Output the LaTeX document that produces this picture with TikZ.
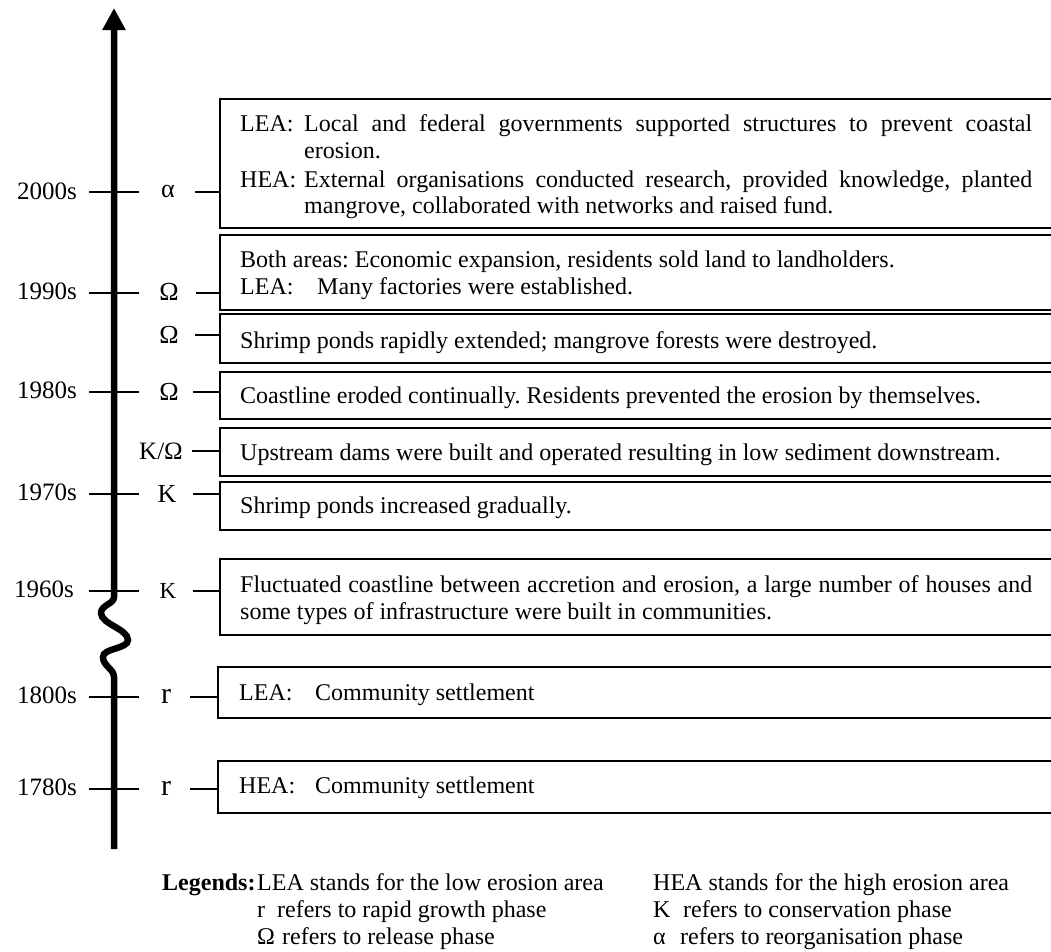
\documentclass[tikz,border=0pt]{standalone}
\usepackage{fontspec}
\setmainfont{Liberation Serif}
\usetikzlibrary{arrows.meta,calc}
\frenchspacing
\begin{document}
\begin{tikzpicture}[x=1pt,y=-1pt,
  axisline/.style={line width=6.5pt,-{Triangle[width=22pt,length=22pt]}},
  tickline/.style={line width=1.6pt},
  con/.style={line width=1.5pt},
  box/.style={draw,line width=1.3pt,inner sep=0pt,outer sep=0pt,minimum width=900pt,anchor=north west},
  txt/.style={anchor=base west,inner sep=0pt,font=\fontsize{24}{27}\selectfont},
  yr/.style={anchor=base east,inner sep=0pt,font=\fontsize{25}{28}\selectfont},
  ph/.style={anchor=base,inner sep=0pt,font=\fontsize{26}{29}\selectfont},
  lg/.style={anchor=base west,inner sep=0pt,font=\fontsize{24}{27}\selectfont}]
\clip (0,0) rectangle (1051,951);
\fill[white] (0,0) rectangle (1051,951);

% axis
\draw[axisline] (114,849) -- (114,677)
  .. controls (114,669) and (103,666) .. (103,657)
  .. controls (103,648) and (128,649) .. (128,640)
  .. controls (128,629) and (101,624) .. (101,613)
  .. controls (101,605) and (114,604) .. (114,597) -- (114,8);

% row coordinates
\coordinate (t1) at (114,192);
\coordinate (t2) at (114,293);
\coordinate (t3) at (114,335);
\coordinate (t4) at (114,392);
\coordinate (t5) at (114,451);
\coordinate (t6) at (114,494);
\coordinate (t7) at (114,591);
\coordinate (t8) at (114,697);
\coordinate (t9) at (114,789);

% ticks
\foreach \t in {t1,t2,t4,t6,t7,t8,t9}
  \draw[tickline] ([xshift=-25pt]\t) -- ([xshift=25pt]\t);

% year labels
\node[yr] (y1) at (77,199) {2000s};
\node[yr] (y2) at (77,299) {1990s};
\node[yr] (y4) at (77,398) {1980s};
\node[yr] (y6) at (77,500) {1970s};
\node[yr] (y7) at (74,597) {1960s};
\node[yr] (y8) at (77,703) {1800s};
\node[yr] (y9) at (77,795) {1780s};

% phase symbols
\node[ph] (p1) at (168,197) {α};
\node[ph] (p2) at (169,300) {Ω};
\node[ph] (p3) at (169,343) {Ω};
\node[ph] (p4) at (169,400) {Ω};
\node[ph,font=\fontsize{25}{28}\selectfont] (p5) at (161,459) {K/Ω};
\node[ph] (p6) at (167,502) {K};
\node[ph,font=\fontsize{23}{26}\selectfont] (p7) at (168,598) {K};
\node[ph,font=\fontsize{30}{32}\selectfont] (p8) at (166,703) {r};
\node[ph,font=\fontsize{30}{32}\selectfont] (p9) at (166,795) {r};

% boxes
\node[box,minimum height=129pt] (b1) at (220,99) {};
\node[box,minimum height=75pt] (b2) at (220,235) {};
\node[box,minimum height=49pt] (b3) at (220,314) {};
\node[box,minimum height=47pt] (b4) at (220,372) {};
\node[box,minimum height=48pt] (b5) at (220,428) {};
\node[box,minimum height=48pt] (b6) at (220,482) {};
\node[box,minimum height=76pt] (b7) at (220,559) {};
\node[box,minimum height=51pt] (b8) at (218,667) {};
\node[box,minimum height=52pt] (b9) at (218,761) {};

% connectors
\draw[con] ($(p1.east |- t1)+(20,0)$) -- (b1.west |- t1);
\draw[con] ($(p2.east |- t2)+(17,0)$) -- (b2.west |- t2);
\draw[con] ($(p3.east |- t3)+(16,0)$) -- (b3.west |- t3);
\draw[con] ($(p4.east |- t4)+(14,0)$) -- (b4.west |- t4);
\draw[con] ($(p5.east |- t5)+(9,0)$) -- (b5.west |- t5);
\draw[con] ($(p6.east |- t6)+(16,0)$) -- (b6.west |- t6);
\draw[con] ($(p7.east |- t7)+(16,0)$) -- (b7.west |- t7);
\draw[con] ($(p8.east |- t8)+(19,0)$) -- (b8.west |- t8);
\draw[con] ($(p9.east |- t9)+(19,0)$) -- (b9.west |- t9);

% box texts
\node[txt] (x1a) at (240,131) {LEA:};
\node[txt] (x1b) at (304,131) {\makebox[728pt][s]{Local and federal governments supported structures to prevent coastal}};
\node[txt] (x1c) at (304,158) {erosion.};
\node[txt] (x1d) at (240,187) {HEA:};
\node[txt] (x1e) at (304,187) {\makebox[728pt][s]{External organisations conducted research, provided knowledge, planted}};
\node[txt] (x1f) at (304,213) {mangrove, collaborated with networks and raised fund.};

\node[txt] (x2a) at (240,267) {Both areas: Economic expansion, residents sold land to landholders.};
\node[txt] (x2b) at (240,294) {LEA:};
\node[txt] (x2c) at (317,294) {Many factories were established.};

\node[txt] (x3) at (240,348) {Shrimp ponds rapidly extended; mangrove forests were destroyed.};
\node[txt] (x4) at (240,403) {Coastline eroded continually. Residents prevented the erosion by themselves.};
\node[txt] (x5) at (240,460) {Upstream dams were built and operated resulting in low sediment downstream.};
\node[txt] (x6) at (240,513) {Shrimp ponds increased gradually.};

\node[txt] (x7a) at (240,592) {\makebox[792pt][s]{Fluctuated coastline between accretion and erosion, a large number of houses and}};
\node[txt] (x7b) at (240,619) {some types of infrastructure were built in communities.};

\node[txt] (x8a) at (239,700) {LEA:};
\node[txt] (x8b) at (315,700) {Community settlement};
\node[txt] (x9a) at (239,793) {HEA:};
\node[txt] (x9b) at (315,793) {Community settlement};

% legend
\node[lg,font=\fontsize{24}{27}\selectfont\bfseries] (lgt) at (162,890) {Legends:};
\node[lg] (l1) at (257,890) {LEA stands for the low erosion area};
\node[lg] (l2) at (653,890) {HEA stands for the high erosion area};
\node[lg] (l3) at (257,917) {\makebox[20pt][l]{r}refers to rapid growth phase};
\node[lg] (l4) at (653,917) {\makebox[30pt][l]{K}refers to conservation phase};
\node[lg] (l5) at (257,944) {\makebox[25pt][l]{Ω}refers to release phase};
\node[lg] (l6) at (653,944) {\makebox[27pt][l]{α}refers to reorganisation phase};
\end{tikzpicture}
\end{document}
